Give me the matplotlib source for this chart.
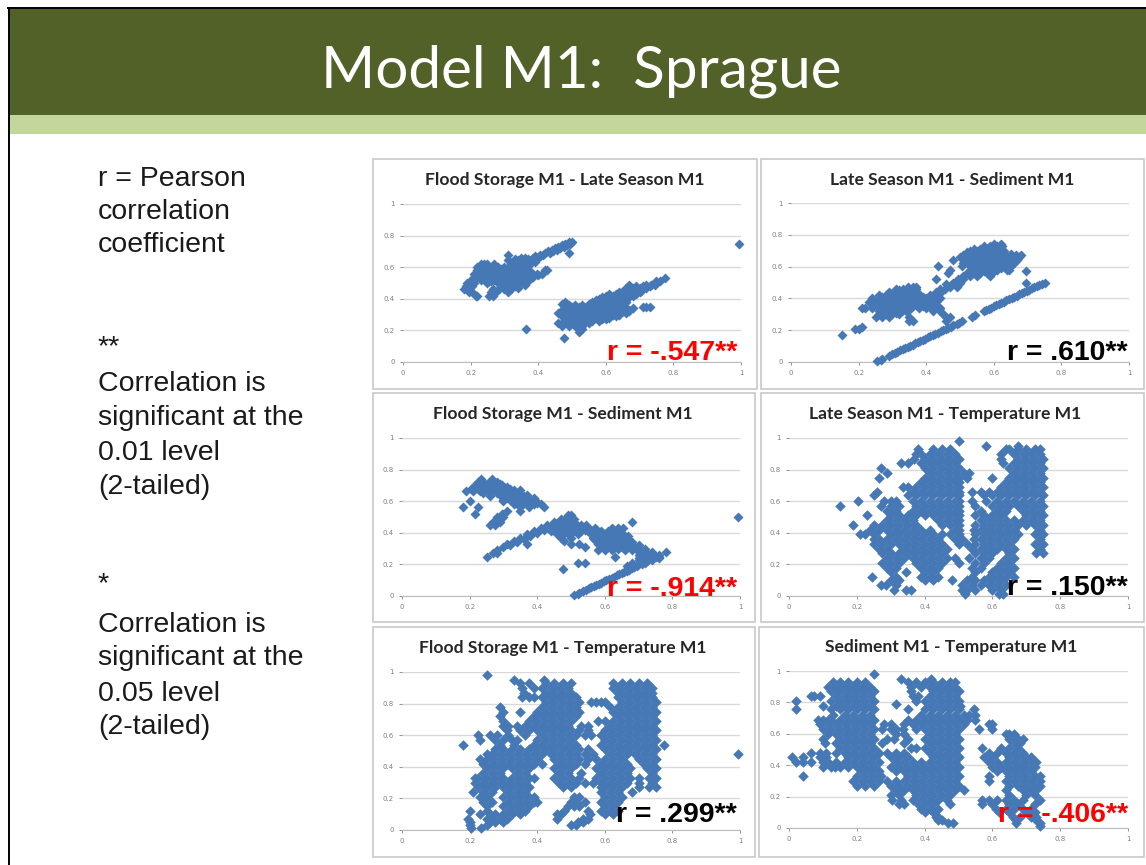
import matplotlib
matplotlib.use('Agg')
import matplotlib.pyplot as plt
from matplotlib.patches import Rectangle

# значения: строка = (y, [x, x, ...])
flood_late = [
    (.76, [.49, .50]), (.75, [.48, .495, .995]), (.74, [.47, .485]), (.73, [.46, .475]),
    (.72, [.45, .465]), (.71, [.44, .455]), (.70, [.43, .445]),
    (.69, [.42, .435, .49]), (.68, [.31, .405, .415]), (.67, [.39, .405]),
    (.66, [.35, .36, .385, .40]), (.65, [.33, .35, .37, .39]),
    (.645, [.31, .34, .355, .37, .38]), (.63, [.33, .35, .37, .39]),
    (.62, [.23, .24, .25, .27, .32, .34, .36, .375]), (.61, [.33, .35, .37]),
    (.60, [.22, .24, .26, .28, .30, .32, .34, .36]), (.59, [.23, .25, .27, .29, .31, .33, .35]),
    (.58, [.22, .24, .26, .28, .30, .32, .34, .36, .42, .425]),
    (.57, [.24, .26, .28, .30, .32, .34, .36, .38]),
    (.56, [.21, .23, .25, .27, .29, .31, .33, .35, .395, .41]),
    (.55, [.25, .27, .29, .31, .33, .35, .36, .38, .40]),
    (.54, [.22, .24, .26, .28, .30, .32, .34, .37, .385]),
    (.53, [.26, .28, .30, .32, .34, .36, .38]),
    (.52, [.20, .23, .25, .27, .29, .31, .33, .35, .365]),
    (.51, [.26, .29, .31, .33, .35, .37]),
    (.50, [.19, .21, .25, .28, .30, .32, .34, .35]), (.49, [.30, .32, .34, .36]),
    (.48, [.185, .205, .29, .31, .33]), (.47, [.30, .32, .34]),
    (.46, [.18, .265, .285, .30, .32]), (.44, [.195, .205, .26, .275, .31]),
    (.42, [.215, .22, .255, .265]),
    (.53, [.775]), (.51, [.75, .76]), (.49, [.67, .72, .735, .745]), (.48, [.69, .71, .73]),
    (.47, [.66, .68, .70, .72]), (.46, [.66, .68, .70]), (.45, [.65, .67, .69, .705]),
    (.44, [.64, .66, .68, .70]), (.43, [.61, .63, .65, .67, .69]),
    (.42, [.60, .62, .64, .66, .68]), (.41, [.59, .61, .63, .65, .67]),
    (.40, [.58, .60, .62, .64, .66]), (.39, [.57, .59, .61, .63, .65]),
    (.38, [.48, .56, .58, .60, .62, .64, .66]), (.37, [.47, .55, .57, .59, .61, .63, .65]),
    (.36, [.49, .51, .53, .55, .57, .59, .61, .63, .65]),
    (.35, [.48, .50, .52, .54, .56, .58, .60, .62, .64, .71, .72, .73]),
    (.34, [.48, .50, .52, .54, .56, .58, .60, .62, .64, .66, .68]),
    (.33, [.47, .49, .51, .53, .55, .57, .59, .61, .63, .65, .67]),
    (.32, [.47, .49, .51, .53, .55, .57, .59, .61, .63, .65, .67]),
    (.31, [.46, .48, .50, .52, .54, .56, .58, .60, .62, .64, .66]),
    (.30, [.48, .50, .52, .54, .56, .58, .60, .62, .64]),
    (.29, [.47, .49, .51, .53, .55, .57, .59, .61, .63]),
    (.28, [.49, .51, .53, .55, .57, .59, .61]),
    (.27, [.48, .50, .52, .54, .59, .60]), (.26, [.50, .52, .54, .56, .58]),
    (.25, [.46, .47, .49, .51, .53, .55]),
    (.23, [.47, .49, .51, .53]), (.21, [.365, .52, .53]), (.19, [.52]), (.15, [.475]),
]

late_sed = [
    (.74, [.60, .62]), (.73, [.57, .59, .61, .625]), (.71, [.54, .56, .58, .60, .62]),
    (.70, [.53, .55, .57, .59, .61, .63]), (.69, [.52, .54, .56, .58, .60, .62]),
    (.68, [.53, .55, .57, .59, .61, .63, .65]),
    (.675, [.51, .53, .55, .57, .59, .61, .63, .665, .68]),
    (.66, [.50, .52, .54, .56, .58, .60, .62, .64, .66, .675]),
    (.65, [.51, .53, .55, .57, .59, .61, .63, .65, .67]),
    (.64, [.48, .52, .54, .56, .58, .60, .62, .64, .66, .67]),
    (.63, [.52, .54, .56, .58, .60, .62, .64]),
    (.62, [.51, .53, .55, .57, .59, .61, .63, .65, .66]),
    (.605, [.435, .505, .53, .55, .57, .59, .61, .635, .65]),
    (.59, [.54, .56, .58, .60, .62]), (.58, [.47, .53, .55, .57, .59, .61, .64, .645]),
    (.57, [.53, .55, .57, .60, .695]), (.56, [.465, .52, .54, .56, .58, .595]),
    (.54, [.51, .53, .55, .59]),
    (.52, [.43, .495, .51]), (.50, [.48, .50, .695]), (.49, [.46, .475, .49]),
    (.47, [.345, .36, .37, .47, .49]), (.46, [.31, .33, .35, .37, .44, .455]),
    (.45, [.32, .34, .36]), (.44, [.29, .31, .33, .35, .37, .43, .445]),
    (.43, [.30, .32, .34, .36, .38]), (.42, [.26, .28, .30, .32, .34, .36, .38, .41, .43]),
    (.41, [.27, .29, .31, .33, .35, .37, .39, .41]),
    (.40, [.24, .26, .28, .30, .32, .34, .36, .38, .40, .42, .44]),
    (.39, [.25, .27, .29, .31, .33, .35, .37, .39, .41, .43]),
    (.38, [.23, .25, .27, .29, .31, .33, .35, .37, .39, .41, .43]),
    (.37, [.26, .28, .30, .32, .34, .36, .38, .40, .42]),
    (.36, [.25, .27, .29, .31, .33, .35, .37, .39, .41, .43]),
    (.35, [.26, .28, .30, .32, .34, .36, .39, .41, .43]),
    (.34, [.21, .22, .24, .27, .29, .31, .33, .35, .38, .40, .42, .44]),
    (.33, [.27, .29, .31, .33, .35]), (.32, [.26, .28, .30, .32, .34, .42, .44]),
    (.31, [.27, .29, .31]), (.30, [.26, .28, .30, .32, .45]),
    (.28, [.25, .27, .29, .35, .46, .47]), (.26, [.35, .36, .46]),
    (.22, [.21]), (.21, [.19, .20]), (.17, [.15]),
]
# ровная полоса снизу
late_sed_line_x = [.255, .265, .27, .29, .30, .3075, .315, .3225, .33, .3375, .345, .3525, .36,
                   .3675, .375, .3825, .39, .3975, .405, .4125, .42, .4275, .435, .4425, .45,
                   .4575, .465, .4725, .48, .49, .4975, .505, .535, .545, .57, .5775, .585,
                   .5925, .60, .6075, .615, .6225, .63, .6375, .645, .6525, .66, .6675, .675,
                   .6825, .69, .6975, .705, .7125, .72, .7275, .735, .7425, .75]
late_sed_line_y = [.005, .015, .02, .04, .05, .0575, .065, .0725, .08, .0875, .095, .1025, .11,
                   .1175, .125, .1325, .14, .1475, .155, .1625, .17, .1775, .185, .1925, .20,
                   .2075, .215, .2225, .23, .24, .2475, .255, .285, .295, .32, .3275, .335,
                   .3425, .35, .3575, .365, .3725, .38, .3875, .395, .4025, .41, .4175, .425,
                   .4325, .44, .4475, .455, .4625, .47, .4775, .485, .4925, .50]

flood_sed = [
    (.74, [.235, .265]), (.72, [.225, .24, .26, .28]), (.71, [.23, .25, .27, .29]),
    (.70, [.215, .235, .255, .275, .295]), (.69, [.22, .24, .26, .28, .30, .31]),
    (.68, [.205, .225, .245, .265, .285, .305, .32]), (.67, [.25, .27, .29, .31, .33, .35]),
    (.665, [.19, .21, .23, .25, .27, .29, .31, .33]), (.65, [.24, .26, .28, .30, .32, .34]),
    (.64, [.29, .31, .33, .35, .37]), (.63, [.26, .30, .32, .34, .36]),
    (.62, [.31, .33, .35, .37, .39]), (.61, [.30, .32, .34, .36, .38]),
    (.60, [.20, .30, .33, .35, .37, .395]), (.59, [.36, .38, .40]),
    (.58, [.33, .35, .37, .39, .41]),
    (.565, [.18, .225, .35, .375, .42]), (.54, [.31, .35]), (.52, [.215, .295, .30]),
    (.50, [.28, .30, .995]), (.47, [.27, .29]), (.45, [.26, .275]),
    (.51, [.49, .50]), (.49, [.47, .49, .51]), (.48, [.48]), (.47, [.45, .47, .49, .51, .68]),
    (.46, [.46]), (.45, [.43, .45, .47, .49, .51, .53, .545]), (.44, [.44, .46, .48, .50, .52]),
    (.43, [.41, .45, .47, .49, .51, .53, .55, .57, .62, .64, .655]),
    (.42, [.42, .48, .50, .52, .54, .56]),
    (.41, [.39, .44, .47, .49, .51, .53, .55, .57, .59, .61, .63]),
    (.40, [.40, .48, .50, .57, .59, .61, .63, .65]),
    (.39, [.37, .46, .49, .52, .56, .58, .60, .62, .64]),
    (.38, [.38, .57, .59, .61, .63, .65, .67]),
    (.37, [.35, .47, .50, .565, .585, .605, .625, .645]),
    (.36, [.36, .59, .61, .63, .65, .67]),
    (.35, [.33, .48, .575, .595, .615, .635, .655]),
    (.34, [.34, .60, .62, .64, .66, .68]),
    (.33, [.31, .37, .50, .525, .58, .60, .62, .64, .66]),
    (.32, [.32, .60, .62, .64, .66, .68, .70]),
    (.31, [.30, .54, .59, .61, .63, .65, .67, .68]),
    (.30, [.62, .64, .66, .68, .70, .72]),
    (.29, [.28, .58, .60, .62, .66, .68, .70]), (.28, [.70, .72, .74, .78]),
    (.27, [.27, .28, .71, .72, .74]), (.26, [.70, .72, .74, .76]),
    (.25, [.25, .63, .73, .74, .75, .76]), (.24, [.70, .72, .74, .76]),
    (.23, [.70, .72, .74]), (.21, [.52, .54, .68, .70, .72]), (.19, [.665, .685]),
    (.17, [.475]),
]
flood_sed_line_x = [.51, .52, .525, .535, .545, .5525, .56, .5675, .575, .5825, .59, .5975, .605,
                    .6125, .62, .6275, .635, .6425, .65, .6575, .665, .6725, .68, .6875, .695,
                    .71, .725, .74]
flood_sed_line_y = [.005, .015, .02, .03, .04, .0475, .055, .0625, .07, .0775, .085, .0925, .10,
                    .1075, .115, .1225, .13, .1375, .145, .1525, .16, .1675, .175, .1825, .19,
                    .205, .22, .235]

late_temp = [
    (.98, [.50]), (.95, [.58, .675]),
    (.93, [.38, .425, .45, .475, .64, .65, .675, .70, .725, .74]),
    (.90, [.375, .39, .415, .44, .465, .49, .625, .665, .69, .715, .74]),
    (.87, [.37, .40, .425, .45, .475, .50, .625, .675, .70, .725, .75]),
    (.84, [.33, .35, .39, .415, .44, .465, .49, .63, .665, .69, .715, .74]),
    (.81, [.27, .40, .425, .45, .475, .50, .65, .675, .70, .725, .75]),
    (.78, [.29, .415, .44, .465, .49, .515, .53, .665, .69, .715, .74]),
    (.75, [.265, .40, .425, .45, .475, .50, .525, .60, .65, .675, .70, .725, .75]),
    (.72, [.39, .415, .44, .465, .49, .50, .64, .665, .69, .715, .74]),
    (.69, [.335, .35, .375, .40, .425, .45, .475, .50, .625, .65, .675, .70, .725, .75]),
    (.66, [.26, .365, .39, .415, .44, .465, .49, .50, .54, .565, .59, .615, .64, .665, .69, .715, .74]),
    (.64, [.25, .35, .375, .40, .425, .45, .475, .50, .575, .60, .625, .65, .675, .70, .725, .75]),
    (.60, [.205, .28, .30, .315, .365, .39, .415, .44, .465, .49, .50, .54, .58, .615, .64, .665, .69, .715, .74]),
    (.57, [.15, .27, .30, .325, .375, .40, .425, .45, .475, .50, .55, .60, .625, .65, .675, .70, .725, .75]),
    (.54, [.29, .315, .365, .39, .415, .44, .465, .49, .50, .565, .615, .64, .69, .715, .74]),
    (.51, [.23, .30, .325, .35, .375, .40, .425, .45, .475, .50, .55, .575, .60, .625, .70, .725, .75]),
    (.48, [.29, .315, .34, .365, .44, .465, .49, .50, .565, .59, .615, .64, .665, .69, .715, .74]),
    (.45, [.19, .25, .275, .30, .325, .35, .375, .45, .475, .50, .55, .575, .60, .625, .65, .675, .70, .725, .75]),
    (.42, [.24, .265, .29, .315, .34, .365, .39, .415, .49, .50, .545, .565, .59, .615, .64, .665, .74]),
    (.39, [.21, .225, .25, .30, .325, .35, .375, .40, .425, .45, .475, .50, .55, .575, .60, .625, .65, .675, .725, .75]),
    (.36, [.25, .265, .29, .315, .34, .365, .39, .415, .44, .49, .51, .545, .565, .59, .615, .64, .665, .74]),
    (.33, [.25, .275, .30, .325, .35, .375, .40, .425, .45, .50, .525, .55, .575, .60, .625, .65, .725, .75]),
    (.30, [.265, .29, .34, .365, .39, .415, .44, .465, .54, .565, .59, .615, .64, .665, .74]),
    (.27, [.275, .30, .325, .35, .375, .40, .425, .45, .55, .575, .60, .65, .73, .75]),
    (.24, [.29, .315, .34, .365, .39, .415, .44, .465, .49, .53, .565, .59, .64, .665]),
    (.21, [.275, .30, .325, .375, .40, .425, .45, .50, .55, .575, .625, .65]),
    (.18, [.29, .315, .39, .415, .44, .54, .565, .615, .64, .665]),
    (.15, [.30, .345, .40, .425, .55, .60, .625, .65]),
    (.12, [.245, .315, .39, .415, .44, .54, .59, .615, .64, .665]),
    (.10, [.30, .325, .40, .425, .48, .525, .55, .575, .60, .625]),
    (.07, [.27, .285, .315, .51, .54, .565, .59, .615, .64]),
    (.04, [.31, .345, .36, .51, .525, .55, .60, .625]), (.015, [.52, .62, .63]),
]

flood_temp = [
    (.98, [.25]), (.95, [.33, .42]),
    (.93, [.35, .375, .425, .45, .475, .50, .625, .65, .675, .70, .725]),
    (.90, [.355, .39, .415, .44, .465, .49, .625, .64, .665, .69, .715, .74]),
    (.87, [.36, .425, .45, .475, .50, .64, .65, .675, .70, .725, .74]),
    (.84, [.355, .375, .39, .415, .44, .465, .49, .515, .64, .665, .69, .715, .74]),
    (.81, [.425, .45, .475, .50, .525, .56, .575, .59, .60, .65, .675, .70, .725, .75]),
    (.78, [.29, .415, .44, .465, .49, .515, .615, .64, .665, .69, .715, .74]),
    (.75, [.30, .35, .40, .425, .45, .475, .50, .525, .625, .65, .675, .70, .725, .75]),
    (.72, [.29, .39, .415, .44, .465, .49, .515, .64, .665, .69, .715, .74]),
    (.69, [.30, .375, .40, .425, .45, .475, .50, .58, .60, .625, .65, .675, .70, .725, .75]),
    (.66, [.30, .315, .34, .365, .39, .415, .44, .465, .49, .53, .55, .615, .64, .665, .69, .715, .74]),
    (.63, [.31, .35, .375, .40, .425, .45, .475, .50, .525, .55, .60, .625, .65, .675, .70, .725, .75]),
    (.60, [.225, .26, .28, .315, .365, .415, .44, .465, .49, .515, .54, .56, .59, .615, .64, .665, .69, .715, .74]),
    (.57, [.23, .275, .30, .325, .34, .40, .425, .45, .475, .50, .60, .625, .65, .675, .70, .725, .75]),
    (.54, [.18, .29, .33, .39, .415, .44, .465, .49, .515, .59, .615, .64, .665, .69, .715, .74, .775]),
    (.51, [.275, .30, .325, .35, .375, .40, .425, .45, .475, .50, .525, .55, .60, .625, .65, .675, .70, .725, .75]),
    (.48, [.25, .265, .29, .315, .34, .365, .39, .415, .44, .465, .49, .515, .54, .565, .615, .64, .665, .69, .715, .74, .995]),
    (.45, [.23, .25, .275, .30, .325, .35, .375, .40, .45, .475, .50, .525, .55, .575, .60, .625, .65, .70, .725, .75]),
    (.42, [.24, .265, .29, .315, .34, .365, .39, .415, .465, .49, .515, .54, .59, .615, .64, .665, .715, .74]),
    (.39, [.25, .275, .30, .325, .35, .375, .45, .475, .50, .575, .60, .625, .65, .675, .725, .75]),
    (.36, [.24, .265, .29, .34, .365, .465, .49, .53, .59, .615, .64, .665, .74]),
    (.33, [.215, .225, .25, .275, .30, .325, .35, .375, .39, .45, .475, .50, .525, .575, .60, .625, .65, .675, .70, .73, .75]),
    (.30, [.215, .24, .265, .29, .315, .34, .365, .465, .49, .515, .54, .565, .59, .615, .64, .665, .70, .74]),
    (.27, [.225, .25, .275, .30, .325, .35, .375, .475, .50, .59, .60, .625, .65, .70, .73, .75]),
    (.24, [.21, .24, .265, .315, .34, .365, .59, .615, .64, .68]),
    (.21, [.23, .25, .30, .325, .35, .375, .39, .51, .525, .60, .625, .65]),
    (.18, [.24, .265, .315, .34, .365, .39, .40, .50, .515, .54, .59, .615, .64]),
    (.15, [.25, .30, .325, .35, .375, .49, .51, .525, .60, .625]),
    (.12, [.20, .25, .315, .34, .365, .48, .55, .59, .615, .64]),
    (.10, [.23, .26, .275, .30, .325, .35, .46, .47, .555, .60, .625]),
    (.07, [.195, .25, .265, .29, .31, .46, .535, .55]),
    (.05, [.20, .26, .275, .30, .52, .535]), (.03, [.20, .25, .50, .515]), (.015, [.205, .235]),
]

sed_temp = [
    (.98, [.25]), (.95, [.33, .42]),
    (.93, [.13, .15, .175, .20, .225, .35, .375, .40, .425, .45, .475, .49]),
    (.90, [.115, .14, .165, .19, .215, .24, .36, .39, .415, .44, .465, .49]),
    (.87, [.125, .15, .175, .20, .225, .25, .36, .425, .45, .475, .50]),
    (.84, [.065, .075, .09, .14, .165, .19, .215, .24, .365, .38, .415, .44, .465, .49]),
    (.81, [.02, .125, .15, .175, .20, .225, .25, .375, .40, .425, .45, .475, .50]),
    (.79, [.315]), (.78, [.10, .14, .165, .19, .215, .24, .415, .44, .465, .49, .505]),
    (.76, [.02, .125, .15, .175, .20, .225, .25, .35, .40, .425, .45, .475, .50, .545]),
    (.72, [.13, .165, .19, .215, .24, .39, .415, .44, .465, .49, .515, .53, .55]),
    (.69, [.085, .10, .115, .125, .15, .175, .20, .225, .25, .35, .375, .40, .425, .45, .475, .50, .525, .55]),
    (.66, [.09, .115, .14, .165, .19, .215, .24, .28, .30, .34, .365, .39, .415, .44, .465, .49, .515, .59, .60]),
    (.63, [.10, .125, .15, .175, .20, .225, .25, .275, .30, .315, .335, .375, .40, .425, .45, .475, .50, .56, .60]),
    (.60, [.115, .14, .165, .19, .215, .24, .315, .34, .415, .44, .465, .49, .64, .65, .665]),
    (.57, [.10, .15, .175, .20, .225, .25, .29, .31, .35, .40, .425, .45, .475, .50, .65, .675, .69]),
    (.54, [.105, .14, .165, .19, .215, .24, .275, .34, .415, .44, .465, .49, .665, .68]),
    (.51, [.15, .175, .20, .225, .25, .36, .375, .40, .425, .45, .475, .50, .57, .625, .65, .675]),
    (.48, [.065, .09, .11, .14, .165, .19, .215, .24, .265, .29, .315, .34, .415, .44, .465, .49, .59, .615, .64, .665, .69]),
    (.45, [.01, .04, .09, .11, .175, .20, .225, .25, .30, .325, .35, .425, .45, .475, .50, .575, .60, .65, .675, .70, .715]),
    (.42, [.02, .04, .065, .10, .115, .14, .165, .19, .215, .24, .265, .315, .34, .365, .39, .415, .44, .465, .49, .59, .615, .64, .665, .69, .715, .73]),
    (.39, [.10, .125, .135, .15, .175, .20, .225, .25, .30, .325, .35, .375, .40, .425, .45, .475, .50, .60, .625, .65, .675, .70, .725]),
    (.36, [.215, .24, .265, .315, .34, .365, .39, .415, .44, .465, .49, .615, .64, .665, .69, .715]),
    (.33, [.04, .20, .225, .25, .27, .35, .375, .40, .425, .45, .475, .50, .59, .65, .675, .70, .725, .74]),
    (.30, [.19, .215, .24, .265, .29, .315, .34, .365, .39, .415, .44, .465, .49, .59, .64, .665, .69, .715, .74]),
    (.27, [.20, .225, .25, .30, .325, .35, .375, .40, .425, .45, .475, .50, .65, .675, .70, .725, .74]),
    (.24, [.315, .34, .365, .39, .415, .44, .465, .49, .515, .64, .69, .715, .73]),
    (.21, [.30, .325, .375, .40, .425, .45, .475, .65, .70, .725]),
    (.18, [.305, .33, .365, .39, .415, .44, .465, .57, .59, .615, .64, .665, .69, .74]),
    (.15, [.325, .34, .38, .40, .425, .475, .57, .60, .65, .675, .725]),
    (.12, [.39, .415, .44, .61, .64, .665, .69, .715]), (.10, [.40, .425, .62, .65, .70, .725]),
    (.07, [.435, .44, .66, .68, .715, .73]), (.05, [.44, .45, .67, .73]),
    (.03, [.47, .485, .67, .74]), (.015, [.74]),
]

panel_titles = ['Flood Storage M1 - Late Season M1', 'Late Season M1 - Sediment M1',
                'Flood Storage M1 - Sediment M1', 'Late Season M1 - Temperature M1',
                'Flood Storage M1 - Temperature M1', 'Sediment M1 - Temperature M1']
r_labels = ['r = -.547**', 'r = .610**', 'r = -.914**', 'r = .150**', 'r = .299**', 'r = -.406**']
tick_values = [0, 0.2, 0.4, 0.6, 0.8, 1]
tick_labels = ['0', '0.2', '0.4', '0.6', '0.8', '1']

W, H = 1146, 865
POINT = '#4678B6'
GREY = '#C4C4C4'


def fx(x):
    return x / W


def fy(y):
    return 1 - y / H


def flatten(rows, line_x=(), line_y=()):
    '''Разворачивает строки (y, [x...]) в два списка'''
    xs, ys = list(line_x), list(line_y)
    for y, row in rows:
        for x in row:
            xs.append(x)
            ys.append(y)
    return xs, ys


panel_points = [flatten(flood_late),
                flatten(late_sed, late_sed_line_x, late_sed_line_y),
                flatten(flood_sed, flood_sed_line_x, flood_sed_line_y),
                flatten(late_temp),
                flatten(flood_temp),
                flatten(sed_temp)]

# рамка, x0, x1 оси, y верх, y низ (в пикселях картинки)
frames = [(373, 159, 757, 389), (761, 159, 1144, 389), (373, 393, 755, 622),
          (761, 393, 1144, 622), (373, 627, 755, 857), (759, 627, 1144, 857)]
plot_boxes = [(403, 741, 204, 362), (791, 1129, 203, 362), (402, 740, 438, 596),
              (789, 1128, 438, 596), (402, 740, 672, 830), (789, 1128, 671, 828)]
title_pos = [(565, 180), (952, 180), (563, 414), (945, 414), (563, 648), (951, 647)]
r_pos = [(737, 353), (1128, 353), (737, 589), (1128, 588), (737, 815), (1128, 815)]
marker_sizes = [26, 26, 26, 29, 29, 29]

fig = plt.figure(figsize=(W / 100, H / 100), dpi=100, facecolor='white')

# шапка слайда
fig.add_artist(Rectangle((fx(9), fy(115)), fx(W - 9), 107 / H, fc='#526127', ec='none'))
fig.add_artist(Rectangle((fx(9), fy(134)), fx(W - 9), 19 / H, fc='#C3D69B', ec='none'))
fig.add_artist(plt.Line2D([fx(8.5), fx(8.5)], [0, fy(8)], color='black', lw=1.4))
fig.add_artist(plt.Line2D([fx(8), 1], [fy(8), fy(8)], color='black', lw=1.4))
fig.text(fx(581), fy(71), 'Model M1:  Sprague', color='white', fontsize=42,
         family='Lato', ha='center', va='center')

# текст слева
left_text = [('r = Pearson', 177), ('correlation', 210), ('coefficient', 243),
             ('**', 345), ('Correlation is', 382), ('significant at the', 416),
             ('0.01 level', 451), ('(2-tailed)', 485),
             ('*', 582), ('Correlation is', 623), ('significant at the', 656),
             ('0.05 level', 692), ('(2-tailed)', 725)]
for line, y in left_text:
    fig.text(fx(98), fy(y + 2), line, color='#1A1A1A', fontsize=20.5,
             family='Liberation Sans', ha='left', va='center')

for i in range(6):
    left, top, right, bottom = frames[i]
    fig.add_artist(Rectangle((fx(left), fy(bottom)), fx(right - left), (bottom - top) / H,
                             fc='white', ec=GREY, lw=1.1, zorder=1))

    x0, x1, y_top, y_bottom = plot_boxes[i]
    ax = fig.add_axes([fx(x0), fy(y_bottom), fx(x1 - x0), (y_bottom - y_top) / H], zorder=2)
    ax.patch.set_alpha(0)
    xs, ys = panel_points[i]
    ax.scatter(xs, ys, marker='D', s=marker_sizes[i], color=POINT, linewidths=0, clip_on=False, zorder=3)
    ax.set_xlim(0, 1)
    ax.set_ylim(0, 1)
    ax.set_xticks(tick_values, tick_labels)
    ax.set_yticks(tick_values, tick_labels)
    ax.grid(axis='y', color='#D9D9D9', lw=1)
    ax.set_axisbelow(True)
    ax.tick_params(labelsize=5, colors='#808080', length=2, width=0.6, pad=4)
    for side in ['top', 'right', 'left']:
        ax.spines[side].set_visible(False)
    ax.spines['bottom'].set_color('#BDBDBD')

    fig.text(fx(title_pos[i][0]), fy(title_pos[i][1]), panel_titles[i], color='#262626',
             fontsize=12.6, fontweight='bold', family='Lato', ha='center', va='center', zorder=4)
    r_color = 'red' if '-' in r_labels[i] else 'black'
    fig.text(fx(r_pos[i][0]), fy(r_pos[i][1]), r_labels[i], color=r_color, fontsize=20.5,
             fontweight='bold', family='Liberation Sans', ha='right', va='center', zorder=4)

fig.savefig('out.png', dpi=100)
